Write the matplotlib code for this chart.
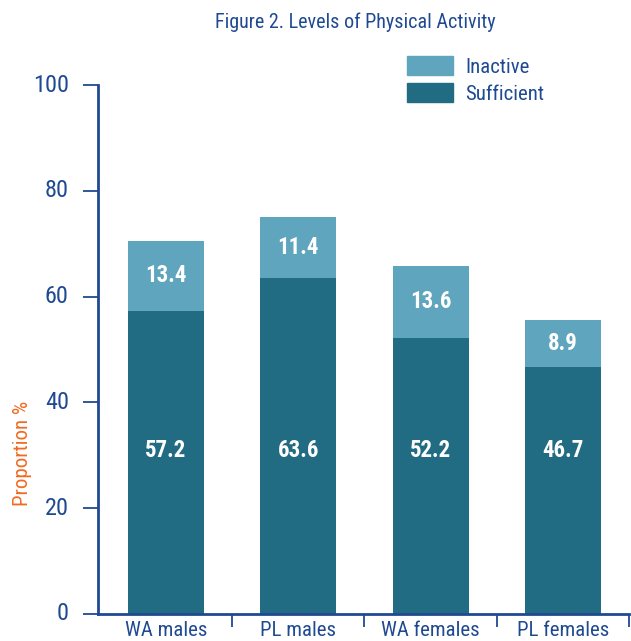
import matplotlib.pyplot as plt
from matplotlib.patches import Patch
import numpy as np

# data
groups = ["WA males", "PL males", "WA females", "PL females"]
sufficient = [57.2, 63.6, 52.2, 46.7]
inactive = [13.4, 11.4, 13.6, 8.9]

navy = "#1f4a92"
c_suff = "#226c83"
c_inact = "#5fa5bd"
narrow = ["Roboto Condensed", "DejaVu Sans"]

fig = plt.figure(figsize=(6.31, 6.41), dpi=100)
ax = fig.add_axes([98 / 631, 27 / 641, (629 - 98) / 631, (614 - 85) / 641])

x = np.arange(len(groups))
ax.bar(x, sufficient, width=0.575, color=c_suff)
ax.bar(x, inactive, width=0.575, bottom=sufficient, color=c_inact)

# values inside the bars (the lower ones sit on one line in the original)
for i in range(len(groups)):
    ax.text(x[i], 31, f"{sufficient[i]}", ha="center", va="center",
            color="white", fontsize=16.5, fontweight="bold", family=narrow)
    ax.text(x[i], sufficient[i] + inactive[i] / 2, f"{inactive[i]}", ha="center", va="center",
            color="white", fontsize=16.5, fontweight="bold", family=narrow)

ax.set_xlim(-0.514, 3.5)
ax.set_ylim(0, 100)

# spines
for s in ["top", "right"]:
    ax.spines[s].set_visible(False)
for s in ["left", "bottom"]:
    ax.spines[s].set_color(navy)
    ax.spines[s].set_linewidth(2)

ax.set_yticks([0, 20, 40, 60, 80, 100])
ax.tick_params(axis="y", length=11, width=1.3, color=navy, labelcolor=navy,
               labelsize=17.5, pad=10)
for lab in ax.get_yticklabels():
    lab.set_family(narrow)
    lab.set_verticalalignment("center")

# boundary ticks, labels at the bar centres
ax.set_xticks(x + 0.5)
ax.set_xticklabels([])
ax.tick_params(axis="x", which="major", length=9, width=1.3, color=navy)
ax.set_xticks(x, minor=True)
ax.set_xticklabels(groups, minor=True)
ax.tick_params(axis="x", which="minor", length=0, labelcolor=navy, labelsize=15, pad=5)
for lab in ax.get_xticklabels(minor=True):
    lab.set_family(narrow)

fig.text(23 / 631, 1 - 453 / 641, "Proportion %", rotation=90, ha="center", va="center",
         color="#f26a22", fontsize=15, family=narrow)

fig.text(355 / 631, 1 - 22 / 641, "Figure 2. Levels of Physical Activity", ha="center",
         va="center", color=navy, fontsize=14.5, family=narrow)

handles = [Patch(color=c_inact, label="Inactive"), Patch(color=c_suff, label="Sufficient")]
leg = fig.legend(handles=handles, loc="upper left", bbox_to_anchor=(407 / 631, 1 - 56 / 641),
                 frameon=False, prop={"family": narrow, "size": 15}, handlelength=2.2,
                 handleheight=1.05, labelspacing=0.3, handletextpad=0.6, borderpad=0,
                 borderaxespad=0)
for t in leg.get_texts():
    t.set_color(navy)

plt.savefig("out.png", dpi=100)
